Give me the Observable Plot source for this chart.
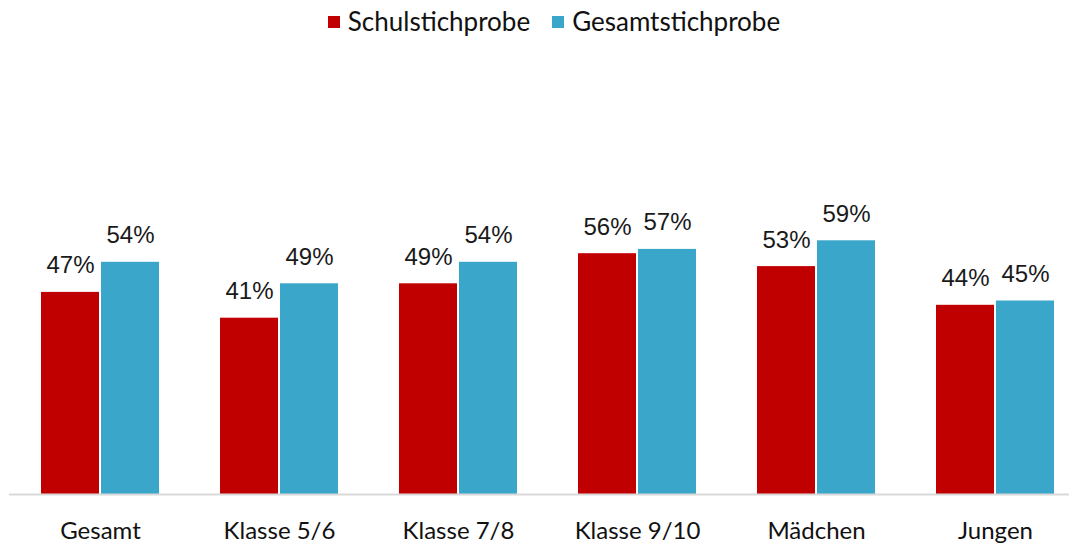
<!DOCTYPE html>
<html>
<head>
<meta charset="utf-8">
<script src="https://cdn.jsdelivr.net/npm/d3@7"></script>
<script src="https://cdn.jsdelivr.net/npm/@observablehq/plot@0.6"></script>
<style>
  html, body { margin: 0; padding: 0; background: #fff; }
  body { width: 1078px; height: 547px; overflow: hidden; font-family: Lato, "Noto Sans", sans-serif; }
  #legend { height: 45px; display: flex; justify-content: center; align-items: center; gap: 22px; font-size: 26px; color: #111; padding-left: 30px; padding-bottom: 4px; box-sizing: border-box; }
  #legend span.sw { display: inline-block; width: 12px; height: 12px; margin-right: 8px; vertical-align: middle; position: relative; top: -2px; }
</style>
</head>
<body>
<div id="legend"></div>
<div id="chart"></div>
<script>
const categories = ["Gesamt", "Klasse 5/6", "Klasse 7/8", "Klasse 9/10", "Mädchen", "Jungen"];
const seriesNames = ["Schulstichprobe", "Gesamtstichprobe"];
const schul = [47, 41, 49, 56, 53, 44];
const gesamt = [54, 49, 54, 57, 59, 45];
const colors = ["#C00000", "#3AA6CA"];

const legend = document.getElementById("legend");
seriesNames.forEach((s, i) => {
  const item = document.createElement("div");
  item.innerHTML = `<span class="sw" style="background:${colors[i]}"></span>${s}`;
  legend.appendChild(item);
});

const dataS = categories.map((c, i) => ({cat: c, v: schul[i]}));
const dataG = categories.map((c, i) => ({cat: c, v: gesamt[i]}));

const chart = Plot.plot({
  width: 1078,
  height: 502,
  marginTop: 19,
  marginBottom: 53,
  marginLeft: 9,
  marginRight: 9,
  style: {fontFamily: "Lato, 'Noto Sans', sans-serif", background: "#fff"},
  x: {type: "band", domain: categories, range: [8, 1087], paddingInner: 0.342, paddingOuter: 0.171, label: null},
  y: {domain: [0, 100], axis: null},
  marks: [
    Plot.barY(dataS, {x: "cat", y: "v", fill: colors[0], insetRight: 60}),
    Plot.barY(dataG, {x: "cat", y: "v", fill: colors[1], insetLeft: 60}),
    Plot.ruleY([0], {stroke: "#D9D9D9", strokeWidth: 2}),
    Plot.text(dataS, {x: "cat", y: "v", text: d => d.v + "%", dx: -30, dy: -19, lineAnchor: "bottom", fontSize: 24, fill: "#1a1a1a", fontFamily: "'Liberation Sans', Arial, sans-serif"}),
    Plot.text(dataG, {x: "cat", y: "v", text: d => d.v + "%", dx: 30, dy: -19, lineAnchor: "bottom", fontSize: 24, fill: "#1a1a1a", fontFamily: "'Liberation Sans', Arial, sans-serif"}),
    Plot.axisX({tickSize: 0, tickPadding: 27, fontSize: 24, fill: "#111"})
  ]
});
document.getElementById("chart").appendChild(chart);
</script>
</body>
</html>
